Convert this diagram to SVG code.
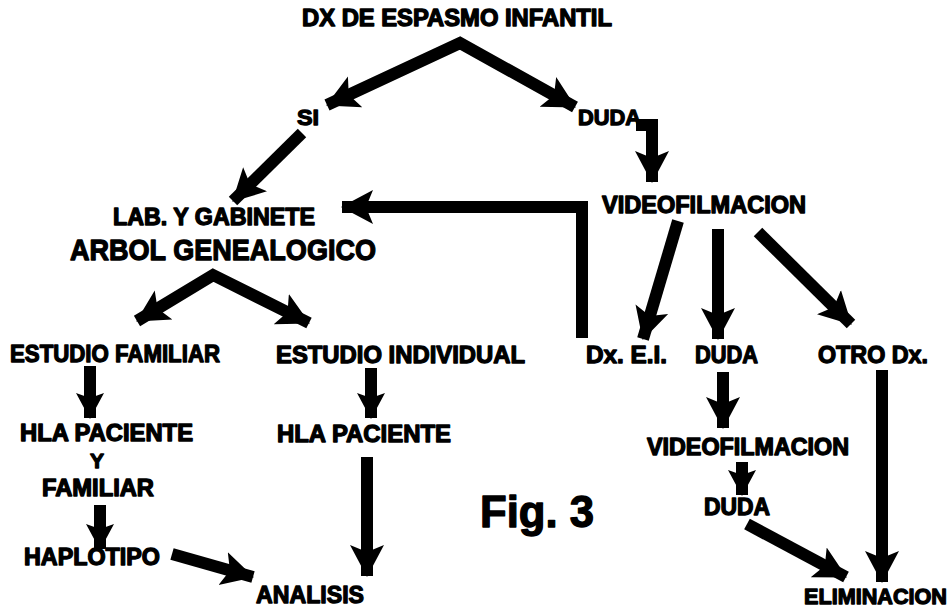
<svg xmlns="http://www.w3.org/2000/svg" width="952" height="610" viewBox="0 0 952 610">
<defs>
<marker id="ah" markerUnits="userSpaceOnUse" markerWidth="32" markerHeight="36" viewBox="0 0 32 36" refX="31" refY="18" orient="auto-start-reverse">
<path d="M0,1 L32,18 L0,35 L7,18 Z" fill="#000"/>
</marker>
<marker id="ahs" markerUnits="userSpaceOnUse" markerWidth="26" markerHeight="30" viewBox="0 0 26 30" refX="25" refY="15" orient="auto-start-reverse">
<path d="M0,1 L26,15 L0,29 L5,15 Z" fill="#000"/>
</marker>
</defs>
<style>
.t{font-family:"Liberation Sans",Arial,sans-serif;font-weight:bold;fill:#000;stroke:#000;stroke-width:1.3;stroke-linejoin:round;}
.c{fill:none;stroke:#000;stroke-width:12;stroke-linejoin:miter;stroke-linecap:butt;}
</style>
<rect width="952" height="610" fill="#fff"/>
<g id="connectors">
<path class="c" d="M327,105 L460,43 L575,107" marker-start="url(#ah)" marker-end="url(#ah)"/>
<path class="c" d="M302,133 L233,201" marker-end="url(#ah)"/>
<path class="c" stroke-width="10" d="M636,125 L652,125 L652,182" marker-end="url(#ah)"/>
<path class="c" d="M582,338 L582,207 L342,207" marker-end="url(#ah)"/>
<path class="c" d="M678,221 L643,339" marker-end="url(#ah)"/>
<path class="c" d="M718,229 L718,339" marker-end="url(#ah)"/>
<path class="c" d="M758,232 L851,324" marker-end="url(#ah)"/>
<path class="c" d="M137,321 L213,275 L309,323" marker-start="url(#ah)" marker-end="url(#ah)"/>
<path class="c" d="M90,366 L90,418" marker-end="url(#ahs)"/>
<path class="c" d="M371,368 L371,418" marker-end="url(#ahs)"/>
<path class="c" d="M367,457 L367,576" marker-end="url(#ah)"/>
<path class="c" d="M100,505 L100,549" marker-end="url(#ahs)"/>
<path class="c" d="M172,554 L253,577" marker-end="url(#ah)"/>
<path class="c" d="M723,372 L723,428" marker-end="url(#ah)"/>
<path class="c" d="M742,462 L742,495" marker-end="url(#ahs)"/>
<path class="c" d="M747,524 L846,577" marker-end="url(#ah)"/>
<path class="c" d="M882,370 L882,582" marker-end="url(#ah)"/>
</g>
<g id="n-dx"><text class="t" x="302" y="26" font-size="23" textLength="310" lengthAdjust="spacingAndGlyphs">DX DE ESPASMO INFANTIL</text></g>
<g id="n-si"><text class="t" x="297" y="125" font-size="22" textLength="22" lengthAdjust="spacingAndGlyphs">SI</text></g>
<g id="n-duda1"><text class="t" x="578" y="125" font-size="22" textLength="63" lengthAdjust="spacingAndGlyphs">DUDA</text></g>
<g id="n-lab"><text class="t" x="113" y="225" font-size="23" textLength="202" lengthAdjust="spacingAndGlyphs">LAB. Y GABINETE</text></g>
<g id="n-arbol"><text class="t" x="70" y="260" font-size="30" textLength="306" lengthAdjust="spacingAndGlyphs">ARBOL GENEALOGICO</text></g>
<g id="n-video1"><text class="t" x="602" y="213" font-size="23" textLength="204" lengthAdjust="spacingAndGlyphs">VIDEOFILMACION</text></g>
<g id="n-estfam"><text class="t" x="10" y="362" font-size="24" textLength="210" lengthAdjust="spacingAndGlyphs">ESTUDIO FAMILIAR</text></g>
<g id="n-estind"><text class="t" x="276" y="363" font-size="24" textLength="249" lengthAdjust="spacingAndGlyphs">ESTUDIO INDIVIDUAL</text></g>
<g id="n-dxei"><text class="t" x="586" y="363" font-size="24" textLength="81" lengthAdjust="spacingAndGlyphs">Dx. E.I.</text></g>
<g id="n-duda2"><text class="t" x="695" y="363" font-size="24" textLength="63" lengthAdjust="spacingAndGlyphs">DUDA</text></g>
<g id="n-otro"><text class="t" x="818" y="363" font-size="24" textLength="110" lengthAdjust="spacingAndGlyphs">OTRO Dx.</text></g>
<g id="n-hla1"><text class="t" x="20" y="441" font-size="23" textLength="173" lengthAdjust="spacingAndGlyphs">HLA PACIENTE</text>
<text class="t" x="97" y="468" font-size="21" text-anchor="middle">Y</text>
<text class="t" x="42" y="496" font-size="23" textLength="112" lengthAdjust="spacingAndGlyphs">FAMILIAR</text></g>
<g id="n-hla2"><text class="t" x="277" y="442" font-size="24" textLength="174" lengthAdjust="spacingAndGlyphs">HLA PACIENTE</text></g>
<g id="n-haplo"><text class="t" x="24" y="565" font-size="23" textLength="136" lengthAdjust="spacingAndGlyphs">HAPLOTIPO</text></g>
<g id="n-analisis"><text class="t" x="256" y="603" font-size="24" textLength="108" lengthAdjust="spacingAndGlyphs">ANALISIS</text></g>
<g id="n-fig"><text class="t" x="480" y="527" font-size="44" textLength="114" lengthAdjust="spacingAndGlyphs">Fig. 3</text></g>
<g id="n-video2"><text class="t" x="647" y="455" font-size="23" textLength="202" lengthAdjust="spacingAndGlyphs">VIDEOFILMACION</text></g>
<g id="n-duda3"><text class="t" x="704" y="515" font-size="23" textLength="66" lengthAdjust="spacingAndGlyphs">DUDA</text></g>
<g id="n-elim"><text class="t" x="804" y="604" font-size="22" textLength="143" lengthAdjust="spacingAndGlyphs">ELIMINACION</text></g>
</svg>
